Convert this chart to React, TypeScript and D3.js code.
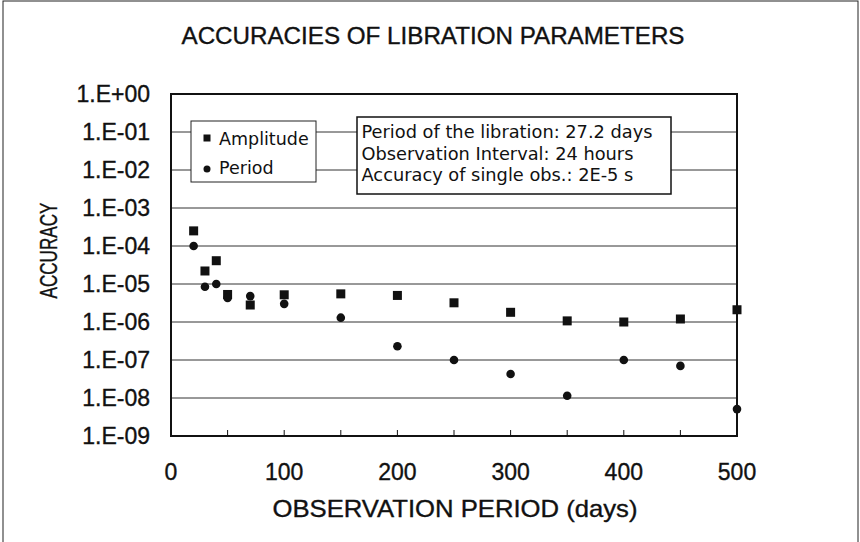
import React from "react";
import * as d3 from "d3";

const periods = [20, 30, 40, 50, 70, 100, 150, 200, 250, 300, 350, 400, 450, 500];
const amplitudeAcc = [2.5e-4, 2.2e-5, 4.1e-5, 5.3e-6, 2.8e-6, 5.2e-6, 5.5e-6, 5.0e-6, 3.2e-6, 1.8e-6, 1.07e-6, 1.0e-6, 1.2e-6, 2.1e-6];
const periodAcc = [1.0e-4, 8.5e-6, 1.0e-5, 4.3e-6, 4.8e-6, 3.0e-6, 1.3e-6, 2.3e-7, 1.0e-7, 4.3e-8, 1.15e-8, 1.0e-7, 7.0e-8, 5.1e-9];
const yTicks = [1e0, 1e-1, 1e-2, 1e-3, 1e-4, 1e-5, 1e-6, 1e-7, 1e-8, 1e-9];
const yTickLabels = ["1.E+00", "1.E-01", "1.E-02", "1.E-03", "1.E-04", "1.E-05", "1.E-06", "1.E-07", "1.E-08", "1.E-09"];
const xTicks = [0, 100, 200, 300, 400, 500];
const xMinorTicks = [50, 100, 150, 200, 250, 300, 350, 400, 450];
const infoLines = [
  "Period of the libration: 27.2 days",
  "Observation Interval: 24 hours",
  "Accuracy of single obs.: 2E-5 s",
];

const W = 860;
const H = 542;
const m = { left: 171, right: 737, top: 94, bottom: 436 };
const font = "'Liberation Sans', Arial, sans-serif";
const boxFont = "'DejaVu Sans', sans-serif";
// scanned look: text a little heavier
const ink = { fill: "#111", stroke: "#111", strokeWidth: 0.35 };

function App() {
  const x = d3.scaleLinear().domain([0, 500]).range([m.left, m.right]);
  const y = d3.scaleLog().domain([1e-9, 1]).range([m.bottom, m.top]);

  return (
    <svg width={W} height={H} style={{ position: "absolute", left: 0, top: 0 }}>
      <rect x={0} y={0} width={W} height={H} fill="#fff" />
      <rect x={3} y={1} width={855} height={H + 5} fill="none" stroke="#222" strokeWidth={1} />
      <text x={433} y={43.5} textAnchor="middle" fontFamily={font} fontSize={23} {...ink}
        textLength={503} lengthAdjust="spacingAndGlyphs">
        ACCURACIES OF LIBRATION PARAMETERS
      </text>

      {/* gridlines */}
      {yTicks.slice(1, -1).map((t) => (
        <line key={t} x1={m.left} x2={m.right} y1={y(t)} y2={y(t)} stroke="#333" strokeWidth={1} />
      ))}

      {/* y labels */}
      {yTicks.map((t, i) => (
        <text key={t} x={150} y={y(t)} dy="0.36em" textAnchor="end" fontFamily={font} fontSize={23} {...ink}>
          {yTickLabels[i]}
        </text>
      ))}

      {/* x ticks */}
      {xMinorTicks.map((t) => (
        <line key={t} x1={x(t)} x2={x(t)} y1={m.bottom} y2={m.bottom - 6} stroke="#111" strokeWidth={1} />
      ))}
      {xTicks.map((t) => (
        <text key={t} x={x(t)} y={480} textAnchor="middle" fontFamily={font} fontSize={23} {...ink}>
          {t}
        </text>
      ))}

      <text x={455} y={517} textAnchor="middle" fontFamily={font} fontSize={24} {...ink}
        textLength={365} lengthAdjust="spacingAndGlyphs">
        OBSERVATION PERIOD (days)
      </text>
      <text transform={`translate(57,250.5) rotate(-90)`} textAnchor="middle" fontFamily={font} fontSize={23} {...ink}
        textLength={96} lengthAdjust="spacingAndGlyphs">
        ACCURACY
      </text>

      {/* plot frame */}
      <rect x={m.left} y={m.top} width={m.right - m.left} height={m.bottom - m.top} fill="none" stroke="#111" strokeWidth={2} />

      {/* legend */}
      <rect x={191} y={121} width={125} height={61} fill="#fff" stroke="#222" strokeWidth={1} />
      <rect x={203.5} y={134.5} width={7} height={7} fill="#111" />
      <text x={219} y={144.5} fontFamily={boxFont} fontSize={17.5} fill="#111">Amplitude</text>
      <circle cx={207} cy={169} r={3.5} fill="#111" />
      <text x={219} y={174} fontFamily={boxFont} fontSize={17.5} fill="#111">Period</text>

      {/* info box */}
      <rect x={357} y={117} width={314} height={77} fill="#fff" stroke="#111" strokeWidth={1.5} />
      {infoLines.map((s, i) => (
        <text key={s} x={361.5} y={137.7 + i * 21.8} fontFamily={boxFont} fontSize={17.8} fill="#111">
          {s}
        </text>
      ))}

      {/* data */}
      {periods.map((p, i) => (
        <rect key={"a" + p} x={x(p) - 4.5} y={y(amplitudeAcc[i]) - 4.5} width={9} height={9} fill="#111" />
      ))}
      {periods.map((p, i) => (
        <circle key={"p" + p} cx={x(p)} cy={y(periodAcc[i])} r={4.3} fill="#111" />
      ))}
    </svg>
  );
}

export default App;
